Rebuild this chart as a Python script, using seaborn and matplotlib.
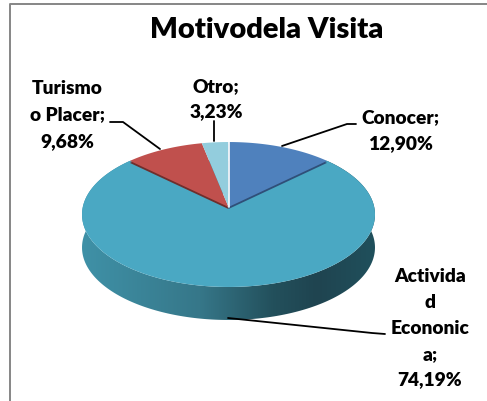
import numpy as np
import matplotlib
matplotlib.use('Agg')
import matplotlib.pyplot as plt
from matplotlib.colors import LinearSegmentedColormap
from matplotlib.patches import PathPatch, Polygon
from matplotlib.path import Path
from matplotlib.transforms import Affine2D
import seaborn as sns

title = 'Motivodela Visita'
categories = ['Conocer', 'Actividad Econonica', 'Turismo o Placer', 'Otro']
values = [12.90, 74.19, 9.68, 3.23]
label_lines = [['Conocer;'], ['Activida', 'd', 'Econonic', 'a;'], ['Turismo', 'o Placer;'], ['Otro;']]
colors = ['#4f81bd', '#4aa8c3', '#c0504d', '#93cddd']

sns.set_theme(style='white')
plt.rcParams['font.family'] = ['Lato', 'DejaVu Sans']

fig = plt.figure(figsize=(4.87, 4.02), dpi=100)
ax = fig.add_axes([0, 0, 1, 1])

# pie in unit coords first, wedges get warped to the 3d look afterwards
wedges, _ = ax.pie(values, colors=sns.color_palette(colors), startangle=90, counterclock=False)

cx, cy = 228.5, 208    # apex of the pie in pixels
sx, sy = 145.7, 71.7
k = 0.1034             # perspective
depth = 33


def warp(verts, shift=0):
    w = 1 + k * verts[:, 1]
    return np.column_stack([cx + sx * verts[:, 0] / w, cy - sy * verts[:, 1] / w + shift])


# to_polygons flattens curves by pixel tolerance, so scale up first
polys = [w.get_path().transformed(Affine2D().scale(2000)).to_polygons(closed_only=False)[0] / 2000 for w in wedges]
for w in wedges:
    w.set_visible(False)

# side of the pie: only the big wedge shows there
big = warp(polys[1])
arc = big[np.hypot(big[:, 0] - cx, big[:, 1] - cy) > 5]
side = Polygon(np.vstack([arc, (arc + [0, depth])[::-1]]), closed=True, fc='none', ec='none', zorder=1)
ax.add_patch(side)
side_cmap = LinearSegmentedColormap.from_list('side', [(0, '#3f91a7'), (0.4, '#367789'), (0.65, '#23505c'),
                                                       (0.8, '#1f4450'), (1, '#20505c')])
img = ax.imshow(np.linspace(0, 1, 256).reshape(1, -1), cmap=side_cmap, aspect='auto',
                extent=(82, 376, 340, 150), zorder=1)
img.set_clip_path(side)

dark = {0: '#2f4f78', 2: '#6f2e2c'}
ax.add_patch(PathPatch(Path(big), fc=colors[1], ec='none', zorder=2))
for i, poly in enumerate(polys):
    if i != 1:
        if i in dark:
            ax.add_patch(PathPatch(Path(warp(poly, 2)), fc=dark[i], ec='none', zorder=3))
        ax.add_patch(PathPatch(Path(warp(poly)), fc=colors[i], ec='none', zorder=3))
ax.plot([cx, cx], [cy, cy - 66], color='white', lw=1.2, zorder=4)

# leader lines
leaders = [([282, 347, 356], [147, 125, 125]),
           ([228, 372, 385], [319, 334, 335]),
           ([160, 123, 110], [150, 123, 123]),
           ([213.5, 213.5], [142, 122])]
for xs, ys in leaders:
    ax.plot(xs, ys, color='black', lw=1.3, zorder=5)

# labels, one text per line because of the wide spacing
label_pos = [(400, 118), (430, 277), (67, 88), (216, 87)]
steps = [26, 25.7, 27, 25]
for lines, val, (lx, ly), step in zip(label_lines, values, label_pos, steps):
    pct = f'{val:.2f}%'.replace('.', ',')
    for j, txt in enumerate(lines + [pct]):
        ax.text(lx, ly + j * step, txt, ha='center', va='center', fontsize=13.8, fontweight='heavy', color='black')

ax.text(266.5, 29.5, title, ha='center', va='center', fontsize=21, fontweight='heavy', color='black')

# chart border, cut by the picture on the right and bottom
ax.plot([9.5, 9.5, 490], [410, 4.5, 4.5], color='#868686', lw=1.4, zorder=6)

ax.set_aspect('auto')
ax.set_xlim(0, 487)
ax.set_ylim(402, 0)
ax.axis('off')
fig.savefig('out.png', dpi=100)
